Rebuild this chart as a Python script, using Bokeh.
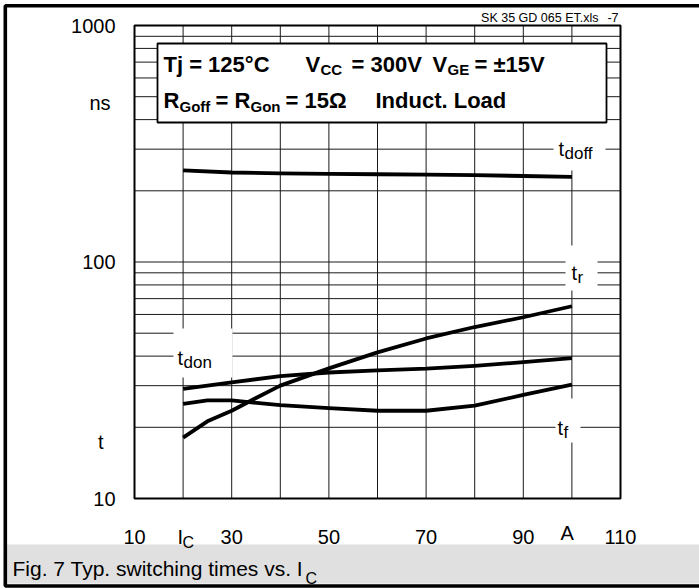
from bokeh.plotting import figure
from bokeh.models import Label, BoxAnnotation, Range1d
from bokeh.core.properties import value
from bokeh.embed import file_html
from bokeh.resources import INLINE

# ---- data ----
ic_doff = [20, 30, 40, 50, 60, 70, 80, 90, 100]
t_doff = [244, 239, 237, 236, 235, 234, 233, 231, 229]

ic_r = [20, 25, 30, 35, 40, 50, 60, 70, 80, 90, 100]
t_r = [18.1, 21.2, 23.5, 26.6, 30.0, 35.5, 41.5, 47.5, 53.1, 58.4, 65.0]

ic_don = [20, 30, 40, 50, 60, 70, 80, 90, 100]
t_don = [29.1, 31.0, 32.9, 34.1, 34.8, 35.4, 36.4, 37.7, 39.2]

ic_f = [20, 25, 30, 40, 50, 60, 70, 80, 90, 100]
t_f = [25.1, 26.0, 26.0, 24.8, 24.1, 23.5, 23.5, 24.7, 27.4, 30.3]

x_min, x_max = 10, 110
y_min, y_max = 10, 1000
x_ticks = [10, 30, 50, 70, 90, 110]
x_tick_labels = ["10", "30", "50", "70", "90", "110"]
y_ticks = [10, 100, 1000]
y_tick_labels = ["10", "100", "1000"]
x_grid = [20, 30, 40, 50, 60, 70, 80, 90, 100]
y_grid = [20, 30, 40, 50, 60, 70, 80, 90, 100, 200, 300, 400, 500, 600, 700, 800, 900]

FONT = "Liberation Sans"

# plot area placement on the 699x588 canvas (pixels)
PX_L, PX_R, PX_T, PX_B = 134, 620, 25, 498


def dx(px):
    return x_min + (px - PX_L) * (x_max - x_min) / (PX_R - PX_L)


def dy(py):
    return 10 ** (1 + (PX_B - py) * 2.0 / (PX_B - PX_T))


p = figure(width=699, height=588,
           x_range=Range1d(dx(0), dx(699)), y_range=Range1d(dy(588), dy(0)),
           y_axis_type="log", x_axis_location=None, y_axis_location=None,
           output_backend="svg", toolbar_location=None, min_border=0)
p.background_fill_color = "white"
p.border_fill_color = "white"
p.outline_line_color = None
p.xgrid.visible = False
p.ygrid.visible = False

# grid
p.segment(x0=x_grid, y0=[y_min] * len(x_grid), x1=x_grid, y1=[y_max] * len(x_grid),
          line_color="#1a1a1a", line_width=1)
p.segment(x0=[x_min] * len(y_grid), y0=y_grid, x1=[x_max] * len(y_grid), y1=y_grid,
          line_color="#1a1a1a", line_width=1)

# curves
for xs, ys in ((ic_doff, t_doff), (ic_r, t_r), (ic_don, t_don), (ic_f, t_f)):
    p.line(xs, ys, line_color="black", line_width=3.8, line_join="round", line_cap="butt")

# plot area outline
p.add_layout(BoxAnnotation(left=x_min, right=x_max, bottom=y_min, top=y_max,
                           fill_color=None, fill_alpha=0, line_color="black",
                           line_alpha=1.0, line_width=2, line_dash="solid",
                           level="annotation"))

# tick labels
p.text(x=x_ticks, y=[dy(536)] * len(x_ticks), text=x_tick_labels,
       text_font=value(FONT), text_font_size=value("20px"), text_color="black",
       text_align="center", text_baseline="alphabetic")
p.text(x=[dx(115)] * len(y_ticks), y=y_ticks, text=y_tick_labels,
       text_font=value(FONT), text_font_size=value("20px"), text_color="black",
       text_align="right", text_baseline="middle")


def box(l, t, r, b, fill="white", line=None, lw=0, alpha=1.0):
    p.add_layout(BoxAnnotation(left=dx(l), right=dx(r), top=dy(t), bottom=dy(b),
                               fill_color=fill, fill_alpha=alpha, line_color=line,
                               line_alpha=1.0, line_width=lw, line_dash="solid",
                               level="annotation"))


def lab(px, py, text, size, bold=False, align="left", baseline="alphabetic"):
    p.add_layout(Label(x=dx(px), y=dy(py), text=text, text_font=FONT,
                       text_font_size=f"{size}px",
                       text_font_style="bold" if bold else "normal",
                       text_align=align, text_baseline=baseline, text_color="black"))


# white label gaps over the grid
box(553, 122, 605, 170)
box(565, 245, 597, 290)
box(173, 328, 232, 377)
box(555, 398, 580, 442)
# info box
box(157, 43, 606, 122, fill="white", line="black", lw=1.8)
# caption bar
box(6, 544, 699, 583, fill="#e0e0e0")
# outer frame
box(4.8, 5.2, 720, 585.5, fill=None, line="black", lw=3.6, alpha=0)

# info box texts
lab(163, 64, "Tj = 125°C", 22, True)
lab(305, 64, "V", 22, True)
lab(320, 69, "CC", 15, True)
lab(351, 64, "= 300V", 22, True)
lab(432, 64, "V", 22, True)
lab(447, 69, "GE", 15, True)
lab(474, 64, "= ±15V", 22, True)
lab(163, 100, "R", 22, True)
lab(179, 106, "Goff", 15, True)
lab(215, 100, "= R", 22, True)
lab(250, 106, "Gon", 15, True)
lab(285, 100, "= 15Ω", 22, True)
lab(375, 100, "Induct. Load", 22, True)

# file tag
lab(598, 17, "SK 35 GD 065 ET.xls", 12.5, align="right")
lab(618, 17, "-7", 12.5, align="right")

# curve labels
lab(558, 148, "t", 20); lab(564, 153, "doff", 17)
lab(571, 272, "t", 20); lab(577, 277, "r", 17)
lab(177, 357, "t", 20); lab(183, 362, "don", 17)
lab(557, 427, "t", 20); lab(563, 432, "f", 17)

# axis unit / symbol labels
lab(110, 102, "ns", 20, align="right", baseline="middle")
lab(103, 441, "t", 20, align="right", baseline="middle")
lab(177, 536, "I", 20)
lab(182, 542, "C", 16)
lab(560, 532, "A", 20)

# caption
lab(12, 568, "Fig. 7 Typ. switching times vs. I", 21)
lab(305, 578, "C", 16)

open("out.html", "w").write(file_html(p, INLINE))
